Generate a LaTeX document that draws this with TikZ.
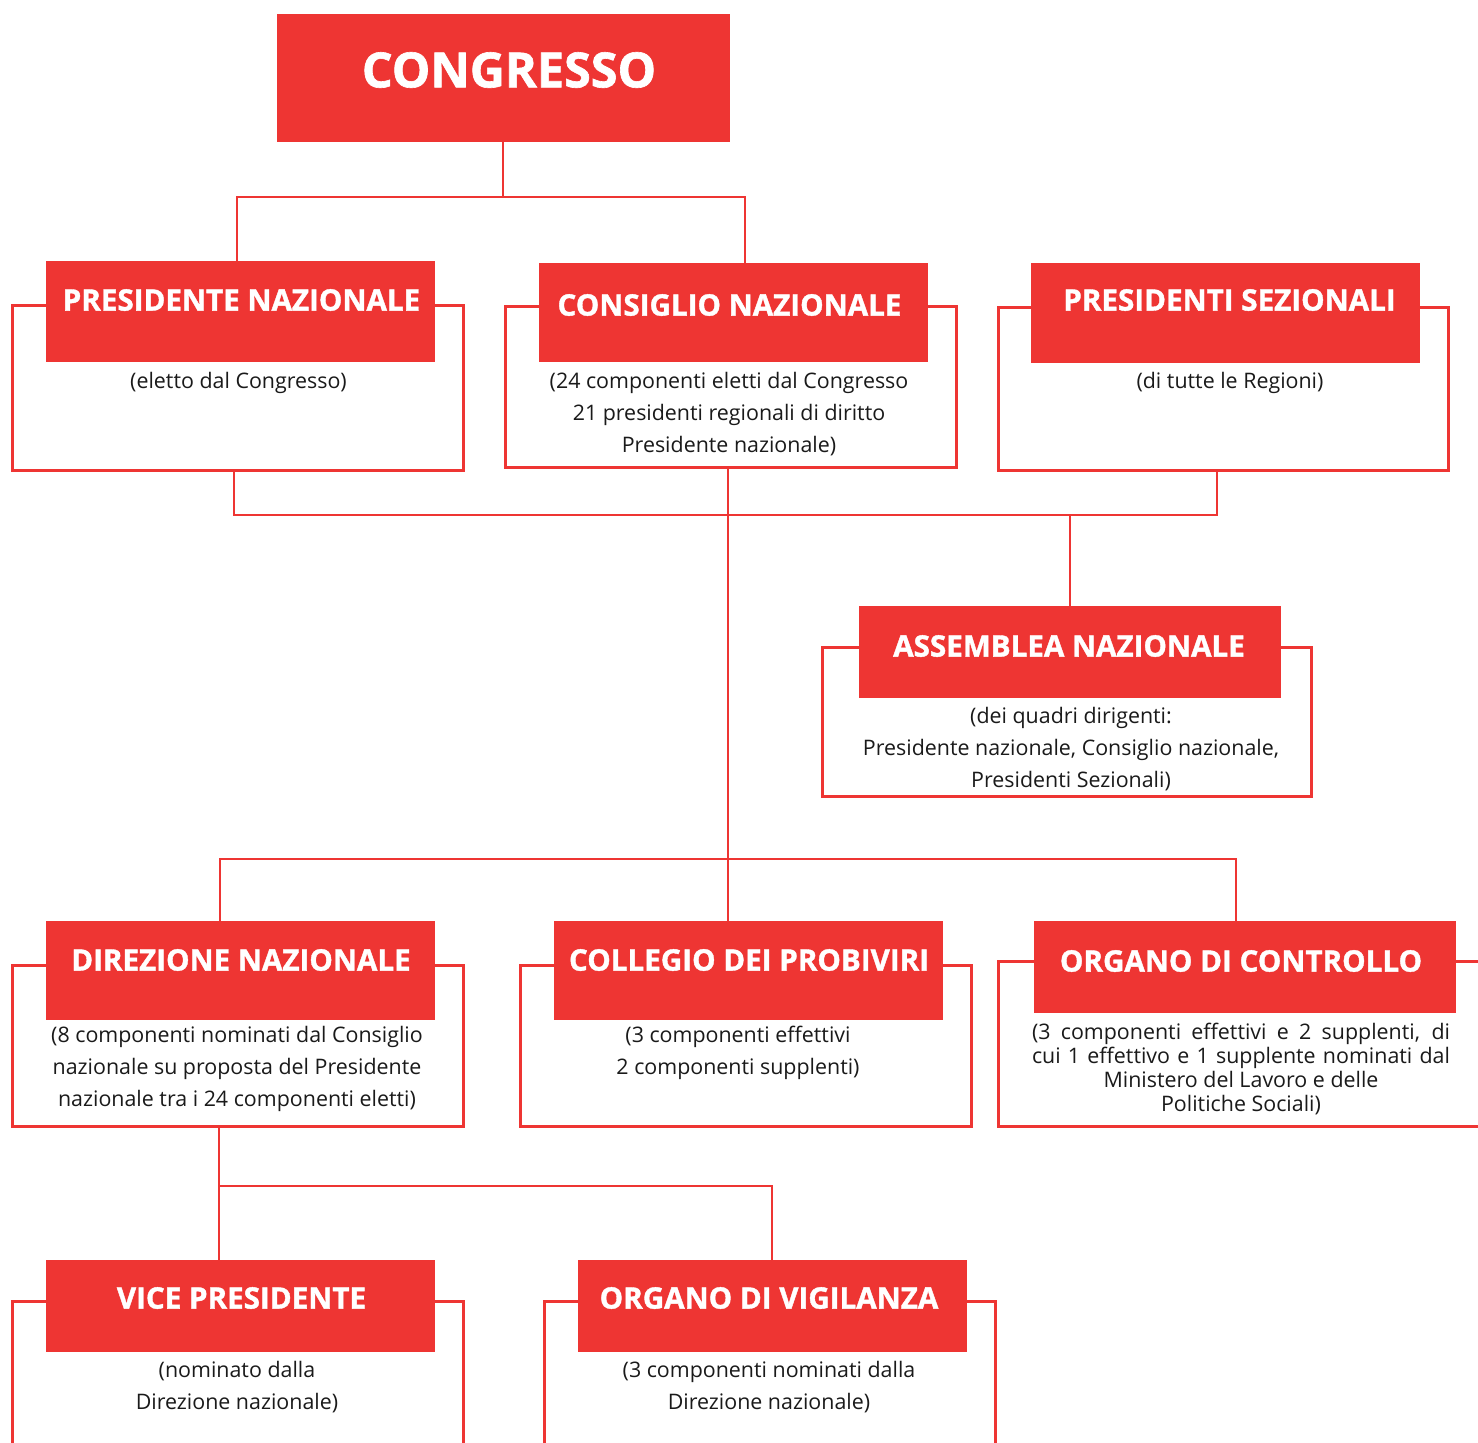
\documentclass[tikz,border=0pt]{standalone}
\usepackage{fontspec}
\setmainfont{Open Sans}
\newfontfamily\ttlfont{Open Sans}[BoldFeatures={FakeBold=1.3}]
\definecolor{rd}{HTML}{EE3533}
\definecolor{tx}{HTML}{1A1A1A}
\begin{document}
\begin{tikzpicture}[x=1pt,y=-1pt,
  redbox/.style={fill=rd, draw=none, inner sep=0pt, anchor=north west},
  outl/.style={draw=rd, line width=2.5pt, inner sep=0pt, anchor=north west},
  ttl/.style={text=white, font=\ttlfont\bfseries\fontsize{29.6}{32}\selectfont, inner sep=0pt},
  body/.style={text=tx, font=\fontsize{21.4}{32}\selectfont, align=center, inner sep=0pt, anchor=north},
  conn/.style={draw=rd, line width=2.5pt}]
\useasboundingbox (0,0) rectangle (1478,1443);
\clip (0,0) rectangle (1478,1443);
\fill[white] (0,0) rectangle (1478,1443);

% CONGRESSO
\node[redbox, minimum width=453pt, minimum height=128pt] (cong) at (277,14) {};
\node[ttl, font=\ttlfont\bfseries\fontsize{48.5}{54}\selectfont] (congT) at (509,70) {CONGRESSO};

% Presidente nazionale
\node[outl, minimum width=451pt, minimum height=165pt] (pnO) at (11,304) {};
\node[redbox, minimum width=389pt, minimum height=101pt] (pn) at (46,261) {};
\node[ttl] (pnT) at (241.5,300) {PRESIDENTE NAZIONALE};
\node[body] (pnB) at (238.5,372) {(eletto dal Congresso)};

% Consiglio nazionale
\node[outl, minimum width=451pt, minimum height=161pt] (cnO) at (504,305) {};
\node[redbox, minimum width=389pt, minimum height=99pt] (cn) at (539,263) {};
\node[ttl] (cnT) at (729.5,305) {CONSIGLIO NAZIONALE};
\node[body] (cnB) at (729,372) {(24 componenti eletti dal Congresso\\21 presidenti regionali di diritto\\Presidente nazionale)};

% Presidenti sezionali
\node[outl, minimum width=450pt, minimum height=163pt] (psO) at (997,306) {};
\node[redbox, minimum width=389pt, minimum height=100pt] (ps) at (1031,263) {};
\node[ttl] (psT) at (1229.5,300) {PRESIDENTI SEZIONALI};
\node[body] (psB) at (1230,372) {(di tutte le Regioni)};

% Assemblea nazionale
\node[outl, minimum width=489pt, minimum height=149pt] (anO) at (821,646) {};
\node[redbox, minimum width=422pt, minimum height=92pt] (an) at (859,606) {};
\node[ttl] (anT) at (1069,646) {ASSEMBLEA NAZIONALE};
\node[body] (anB) at (1071,707) {(dei quadri dirigenti:\\Presidente nazionale, Consiglio nazionale,\\Presidenti Sezionali)};

% Direzione nazionale
\node[outl, minimum width=451pt, minimum height=161pt] (dnO) at (11,964) {};
\node[redbox, minimum width=389pt, minimum height=99pt] (dn) at (46,921) {};
\node[ttl] (dnT) at (241,960) {DIREZIONE NAZIONALE};
\node[body] (dnB) at (237,1026) {(8 componenti nominati dal Consiglio\\nazionale su proposta del Presidente\\nazionale tra i 24 componenti eletti)};

% Collegio dei probiviri
\node[outl, minimum width=451pt, minimum height=161pt] (cpO) at (519,964) {};
\node[redbox, minimum width=389pt, minimum height=99pt] (cp) at (554,921) {};
\node[ttl] (cpT) at (749,960) {COLLEGIO DEI PROBIVIRI};
\node[body] (cpB) at (738,1026) {(3 componenti effettivi\\2 componenti supplenti)};

% Organo di controllo
\node[outl, minimum width=520pt, minimum height=165pt] (ocO) at (997,960) {};
\node[redbox, minimum width=422pt, minimum height=92pt] (oc) at (1034,921) {};
\node[ttl] (ocT) at (1241,961) {ORGANO DI CONTROLLO};
\node[inner sep=0pt, anchor=north, text=tx] (ocB) at (1241,1023) {\parbox{418pt}{\fontsize{21.4}{24}\selectfont\parindent=0pt\parfillskip=0pt (3 componenti effettivi e 2 supplenti, di\linebreak cui 1 effettivo e 1 supplente nominati dal\par\centering Ministero del Lavoro e delle\\Politiche Sociali)\par}};

% Vice presidente
\node[outl, minimum width=451pt, minimum height=200pt] (vpO) at (11,1300) {};
\node[redbox, minimum width=389pt, minimum height=92pt] (vp) at (46,1260) {};
\node[ttl] (vpT) at (241.5,1298) {VICE PRESIDENTE};
\node[body] (vpB) at (237,1361) {(nominato dalla\\Direzione nazionale)};

% Organo di vigilanza
\node[outl, minimum width=451pt, minimum height=200pt] (ovO) at (543,1300) {};
\node[redbox, minimum width=389pt, minimum height=92pt] (ov) at (578,1260) {};
\node[ttl] (ovT) at (769,1298) {ORGANO DI VIGILANZA};
\node[body] (ovB) at (769,1361) {(3 componenti nominati dalla\\Direzione nazionale)};

% connectors
\coordinate (j1) at (503,197);
\coordinate (a1) at (237,197);
\coordinate (a2) at (745,197);
\coordinate (b1) at (234,515);
\coordinate (b2) at (1217,515);
\coordinate (b3) at (1070,515);
\coordinate (c1) at (728,859);
\coordinate (d1) at (220,859);
\coordinate (d2) at (1236,859);
\coordinate (e1) at (219,1186);
\coordinate (e2) at (772,1186);

\draw[conn] (cong.south -| j1) -- (j1);
\draw[conn] (pn.north -| a1) -- (a1) -- (a2) -- (cn.north -| a2);
\draw[conn] (pnO.south -| b1) -- (b1) -- (b2) -- (psO.south -| b2);
\draw[conn] (b3) -- (an.north -| b3);
\draw[conn] (cnO.south -| c1) -- (cp.north -| c1);
\draw[conn] (dn.north -| d1) -- (d1) -- (d2) -- (oc.north -| d2);
\draw[conn] (dnO.south -| e1) -- (vp.north -| e1);
\draw[conn] (e1) -- (e2) -- (ov.north -| e2);
\end{tikzpicture}
\end{document}
